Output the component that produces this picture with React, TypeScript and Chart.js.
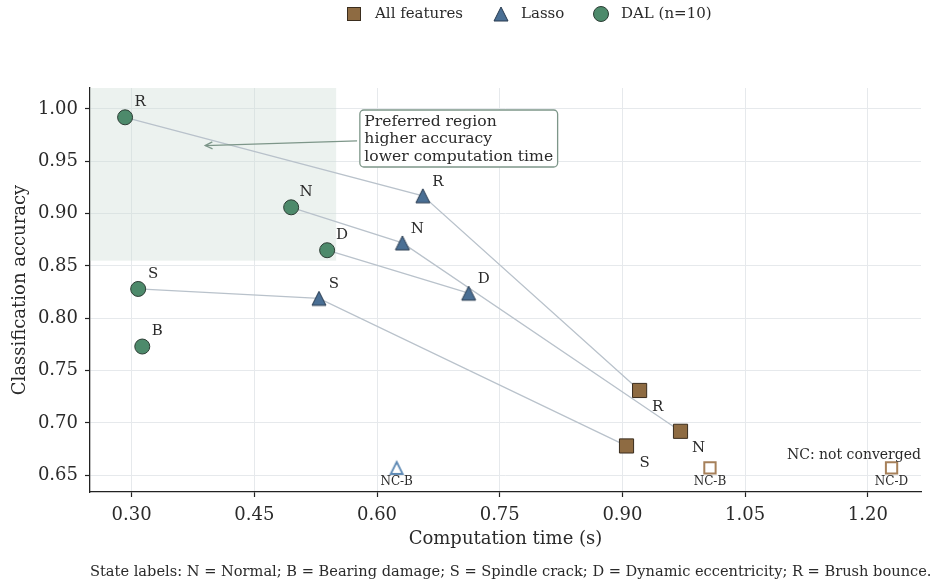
import React, { useEffect, useRef } from 'react';
import { Chart, registerables } from 'chart.js';

Chart.register(...registerables);

// ---------- data ----------
const dalStates = ['R', 'N', 'D', 'S', 'B'];
const dalTime = [0.292, 0.495, 0.539, 0.308, 0.313];
const dalAcc = [0.992, 0.906, 0.865, 0.828, 0.773];

const lassoStates = ['R', 'N', 'D', 'S'];
const lassoTime = [0.656, 0.631, 0.712, 0.529];
const lassoAcc = [0.917, 0.872, 0.824, 0.819];

const allStates = ['R', 'N', 'S'];
const allTime = [0.921, 0.971, 0.905];
const allAcc = [0.731, 0.692, 0.678];

const ncAcc = 0.657;
const lassoNcLabels = ['NC-B'];
const lassoNcTime = [0.624];
const allNcLabels = ['NC-B', 'NC-D'];
const allNcTime = [1.007, 1.229];

const xTicks = [0.3, 0.45, 0.6, 0.75, 0.9, 1.05, 1.2];
const yTicks = [0.65, 0.7, 0.75, 0.8, 0.85, 0.9, 0.95, 1.0];

const preferredMaxTime = 0.55;
const preferredMinAcc = 0.855;
const annotationLines = ['Preferred region', 'higher accuracy', 'lower computation time'];
const annotationBox = { x: 0.579, y: 0.999 };
const arrowFrom = { x: 0.5756, y: 0.9695 };
const arrowTo = { x: 0.39, y: 0.965 };

const legendLabels = ['All features', 'Lasso', 'DAL (n=10)'];
const footnote =
  'State labels: N = Normal; B = Bearing damage; S = Spindle crack; D = Dynamic eccentricity; R = Brush bounce.';
const ncNote = 'NC: not converged';

// ---------- styles ----------
const FONT = '"DejaVu Serif", serif';
const GREEN = '#4d8a6b';
const GREEN_EDGE = '#2c3d34';
const BLUE = '#4a6f94';
const BLUE_EDGE = '#283a4f';
const BROWN = '#8e6b42';
const BROWN_EDGE = '#3a2d1e';
const BROWN_OPEN = '#a6805a';
const BLUE_OPEN = '#5d89b4';
const LINK = '#b9c2cb';
const TEXT = '#2a2a2a';

function makeTriangle(fill: string, stroke: string, lw: number, size: number) {
  const c = document.createElement('canvas');
  const dim = Math.ceil(size + lw * 2 + 2);
  c.width = dim;
  c.height = dim;
  const ctx = c.getContext('2d')!;
  const cx = dim / 2;
  const h = size / 2;
  ctx.beginPath();
  ctx.moveTo(cx, cx - h);
  ctx.lineTo(cx + h, cx + h);
  ctx.lineTo(cx - h, cx + h);
  ctx.closePath();
  ctx.fillStyle = fill;
  ctx.fill();
  ctx.lineWidth = lw;
  ctx.strokeStyle = stroke;
  ctx.lineJoin = 'miter';
  ctx.stroke();
  return c;
}

function drawTri(ctx: CanvasRenderingContext2D, x: number, y: number, size: number) {
  const h = size / 2;
  ctx.beginPath();
  ctx.moveTo(x, y - h);
  ctx.lineTo(x + h, y + h);
  ctx.lineTo(x - h, y + h);
  ctx.closePath();
}

const overlayPlugin = {
  id: 'overlay',
  beforeDatasetsDraw(chart: any) {
    const { ctx, chartArea, scales } = chart;
    const xs = scales.x;
    const ys = scales.y;
    ctx.save();
    ctx.fillStyle = 'rgba(205,220,212,0.38)';
    const x1 = xs.getPixelForValue(preferredMaxTime);
    const y1 = ys.getPixelForValue(preferredMinAcc);
    ctx.fillRect(chartArea.left, chartArea.top, x1 - chartArea.left, y1 - chartArea.top);
    ctx.restore();
  },
  afterDatasetsDraw(chart: any) {
    const { ctx, scales } = chart;
    const xs = scales.x;
    const ys = scales.y;
    const px = (v: number) => xs.getPixelForValue(v);
    const py = (v: number) => ys.getPixelForValue(v);
    ctx.save();
    ctx.fillStyle = TEXT;
    ctx.font = `15px ${FONT}`;
    ctx.textAlign = 'center';
    ctx.textBaseline = 'middle';
    dalStates.forEach((s, i) => ctx.fillText(s, px(dalTime[i]) + 15, py(dalAcc[i]) - 15));
    lassoStates.forEach((s, i) => ctx.fillText(s, px(lassoTime[i]) + 15, py(lassoAcc[i]) - 14));
    allStates.forEach((s, i) => ctx.fillText(s, px(allTime[i]) + 18, py(allAcc[i]) + 17));

    ctx.font = `12px ${FONT}`;
    lassoNcLabels.forEach((s, i) => ctx.fillText(s, px(lassoNcTime[i]), py(ncAcc) + 14));
    allNcLabels.forEach((s, i) => ctx.fillText(s, px(allNcTime[i]), py(ncAcc) + 14));

    ctx.font = `14px ${FONT}`;
    ctx.textAlign = 'right';
    ctx.fillText(ncNote, chart.chartArea.right, py(ncAcc) - 13);

    // annotation arrow
    const ax0 = px(arrowFrom.x), ay0 = py(arrowFrom.y);
    const ax1 = px(arrowTo.x), ay1 = py(arrowTo.y);
    ctx.strokeStyle = '#7d9689';
    ctx.lineWidth = 1.3;
    ctx.beginPath();
    ctx.moveTo(ax0, ay0);
    ctx.lineTo(ax1, ay1);
    ctx.stroke();
    const ang = Math.atan2(ay0 - ay1, ax0 - ax1);
    const hl = 8;
    ctx.beginPath();
    ctx.moveTo(ax1 + hl * Math.cos(ang + 0.45), ay1 + hl * Math.sin(ang + 0.45));
    ctx.lineTo(ax1, ay1);
    ctx.lineTo(ax1 + hl * Math.cos(ang - 0.45), ay1 + hl * Math.sin(ang - 0.45));
    ctx.stroke();

    // annotation box
    ctx.font = `15.6px ${FONT}`;
    ctx.textAlign = 'left';
    const bx = px(annotationBox.x), by = py(annotationBox.y);
    let maxW = 0;
    annotationLines.forEach((l) => (maxW = Math.max(maxW, ctx.measureText(l).width)));
    const bw = maxW + 9;
    const bh = 57;
    ctx.fillStyle = '#ffffff';
    ctx.strokeStyle = '#7d9689';
    ctx.lineWidth = 1.3;
    ctx.beginPath();
    (ctx as any).roundRect(bx, by, bw, bh, 4);
    ctx.fill();
    ctx.stroke();
    ctx.fillStyle = TEXT;
    annotationLines.forEach((l, i) => ctx.fillText(l, bx + 4.5, by + 11.5 + i * 17.5));
    ctx.restore();
  },
  afterDraw(chart: any) {
    const { ctx, chartArea } = chart;
    ctx.save();
    ctx.fillStyle = TEXT;
    ctx.textBaseline = 'middle';
    // axis titles
    ctx.font = `18px ${FONT}`;
    ctx.textAlign = 'center';
    ctx.fillText('Computation time (s)', (chartArea.left + chartArea.right) / 2, 539);
    ctx.save();
    ctx.translate(20, (chartArea.top + chartArea.bottom) / 2);
    ctx.rotate(-Math.PI / 2);
    ctx.fillText('Classification accuracy', 0, 0);
    ctx.restore();
    // footnote
    ctx.font = `14.6px ${FONT}`;
    ctx.textAlign = 'left';
    ctx.fillText(footnote, 90, 572);
    // legend
    const ly = 14;
    ctx.font = `15px ${FONT}`;
    ctx.textAlign = 'left';
    ctx.lineWidth = 1;
    ctx.fillStyle = BROWN;
    ctx.strokeStyle = BROWN_EDGE;
    ctx.fillRect(347, ly - 7, 14, 14);
    ctx.strokeRect(347.5, ly - 6.5, 13, 13);
    ctx.fillStyle = TEXT;
    ctx.fillText(legendLabels[0], 375, ly);
    ctx.fillStyle = BLUE;
    ctx.strokeStyle = BLUE_EDGE;
    drawTri(ctx, 501, ly, 14);
    ctx.fill();
    ctx.stroke();
    ctx.fillStyle = TEXT;
    ctx.fillText(legendLabels[1], 521, ly);
    ctx.fillStyle = GREEN;
    ctx.strokeStyle = GREEN_EDGE;
    ctx.beginPath();
    ctx.arc(601, ly, 7.5, 0, Math.PI * 2);
    ctx.fill();
    ctx.stroke();
    ctx.fillStyle = TEXT;
    ctx.fillText(legendLabels[2], 621, ly);
    ctx.restore();
  },
};

export default function App() {
  const ref = useRef<HTMLCanvasElement>(null);
  useEffect(() => {
    document.body.style.margin = '0';
    const canvas = ref.current!;

    const triFilled = makeTriangle(BLUE, BLUE_EDGE, 1, 14);
    const triOpen = makeTriangle('#ffffff', BLUE_OPEN, 1.8, 12);

    const linkDatasets = dalStates.map((s) => {
      const pts: { x: number; y: number }[] = [];
      const di = dalStates.indexOf(s);
      if (di >= 0) pts.push({ x: dalTime[di], y: dalAcc[di] });
      const li = lassoStates.indexOf(s);
      if (li >= 0) pts.push({ x: lassoTime[li], y: lassoAcc[li] });
      const ai = allStates.indexOf(s);
      if (ai >= 0) pts.push({ x: allTime[ai], y: allAcc[ai] });
      return {
        label: 'link-' + s,
        data: pts,
        showLine: true,
        borderColor: LINK,
        borderWidth: 1.3,
        pointRadius: 0,
        fill: false,
        order: 10,
      };
    });

    const chart = new Chart(canvas, {
      type: 'scatter',
      data: {
        datasets: [
          ...linkDatasets,
          {
            label: legendLabels[0],
            data: allTime.map((t, i) => ({ x: t, y: allAcc[i] })),
            pointStyle: 'rect',
            pointRadius: 10,
            backgroundColor: BROWN,
            borderColor: BROWN_EDGE,
            borderWidth: 1,
            order: 1,
          },
          {
            label: 'All NC',
            data: allNcTime.map((t) => ({ x: t, y: ncAcc })),
            pointStyle: 'rect',
            pointRadius: 8,
            backgroundColor: '#ffffff',
            borderColor: BROWN_OPEN,
            borderWidth: 2,
            order: 1,
          },
          {
            label: legendLabels[1],
            data: lassoTime.map((t, i) => ({ x: t, y: lassoAcc[i] })),
            pointStyle: triFilled as any,
            pointRadius: 8,
            order: 1,
          },
          {
            label: 'Lasso NC',
            data: lassoNcTime.map((t) => ({ x: t, y: ncAcc })),
            pointStyle: triOpen as any,
            pointRadius: 8,
            order: 1,
          },
          {
            label: legendLabels[2],
            data: dalTime.map((t, i) => ({ x: t, y: dalAcc[i] })),
            pointStyle: 'circle',
            pointRadius: 7.5,
            backgroundColor: GREEN,
            borderColor: GREEN_EDGE,
            borderWidth: 1,
            order: 1,
          },
        ] as any,
      },
      options: {
        responsive: false,
        animation: false,
        events: [],
        layout: { padding: { top: 88, right: 7, left: 0, bottom: 0 } },
        plugins: { legend: { display: false }, tooltip: { enabled: false } },
        scales: {
          x: {
            type: 'linear',
            min: 0.2491,
            max: 1.265,
            afterBuildTicks: (scale: any) => {
              scale.ticks = xTicks.map((v) => ({ value: v }));
            },
            afterFit: (scale: any) => {
              scale.height = 94;
            },
            ticks: {
              callback: (v: any) => Number(v).toFixed(2),
              font: { family: FONT, size: 18 },
              color: TEXT,
              padding: 8,
              maxRotation: 0,
              autoSkip: false,
            },
            grid: {
              color: '#e6e9ec',
              lineWidth: 1,
              drawTicks: true,
              tickLength: 5,
              tickColor: '#222',
              tickWidth: 1.2,
            },
            border: { color: '#222', width: 1.3 },
          },
          y: {
            type: 'linear',
            min: 0.634,
            max: 1.02,
            afterBuildTicks: (scale: any) => {
              scale.ticks = yTicks.map((v) => ({ value: v }));
            },
            afterFit: (scale: any) => {
              scale.width = 90;
            },
            ticks: {
              callback: (v: any) => Number(v).toFixed(2),
              font: { family: FONT, size: 18 },
              color: TEXT,
              padding: 7,
              autoSkip: false,
            },
            grid: {
              color: '#e6e9ec',
              lineWidth: 1,
              drawTicks: true,
              tickLength: 5,
              tickColor: '#222',
              tickWidth: 1.2,
            },
            border: { color: '#222', width: 1.3 },
          },
        },
      } as any,
      plugins: [overlayPlugin as any],
    });
    return () => chart.destroy();
  }, []);

  return (
    <div style={{ width: 932, height: 586, position: 'relative', background: '#fff' }}>
      <canvas ref={ref} width={932} height={586} style={{ display: 'block' }} />
    </div>
  );
}
